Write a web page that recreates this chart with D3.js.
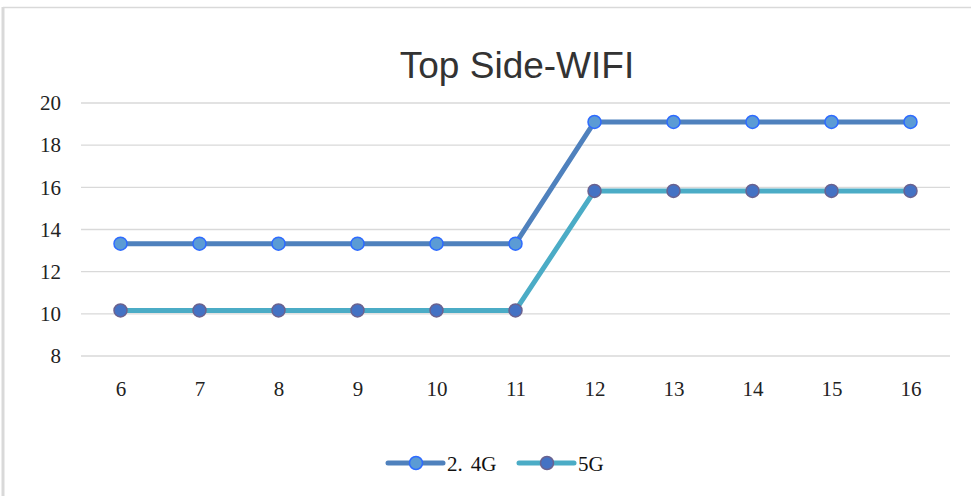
<!DOCTYPE html>
<html>
<head>
<meta charset="utf-8">
<script src="https://cdn.jsdelivr.net/npm/d3@7"></script>
<style>
  html, body { margin: 0; padding: 0; background: #fff; }
  svg { display: block; }
</style>
</head>
<body>
<svg id="chart" width="971" height="496"></svg>
<script>
// Channel numbers along the x axis
const channels = [6, 7, 8, 9, 10, 11, 12, 13, 14, 15, 16];
// Measured values per band
const values24G = [13.33, 13.33, 13.33, 13.33, 13.33, 13.33, 19.1, 19.1, 19.1, 19.1, 19.1];
const values5G = [10.16, 10.16, 10.16, 10.16, 10.16, 10.16, 15.83, 15.83, 15.83, 15.83, 15.83];
const yTicks = [8, 10, 12, 14, 16, 18, 20];
const seriesNames = ["2.4G", "5G"];

const series = [
  { name: seriesNames[0], values: values24G, line: "#4F81BD", fill: "#5B9BD5", stroke: "#2E6BFF" },
  { name: seriesNames[1], values: values5G, line: "#4BACC6", fill: "#4472C4", stroke: "#6A6290" }
];

const svg = d3.select("#chart");
const serif = "'Liberation Serif', 'Times New Roman', serif";

// frame edges
svg.append("line").attr("x1", 3).attr("x2", 971).attr("y1", 7.5).attr("y2", 7.5)
  .attr("stroke", "#D9D9D9").attr("stroke-width", 1.5);
svg.append("line").attr("x1", 3).attr("x2", 3).attr("y1", 7).attr("y2", 496)
  .attr("stroke", "#D9D9D9").attr("stroke-width", 3);

const plot = { left: 81, right: 950, top: 103, bottom: 356 };

const x = d3.scalePoint().domain(channels).range([plot.left, plot.right]).padding(0.5);
const y = d3.scaleLinear().domain([8, 20]).range([plot.bottom, plot.top]);

// title
svg.append("text")
  .attr("x", 517).attr("y", 78)
  .attr("text-anchor", "middle")
  .attr("font-family", "'Liberation Sans', Arial, sans-serif")
  .attr("font-size", 37)
  .attr("fill", "#333")
  .text("Top Side-WIFI");

// horizontal gridlines
svg.append("g").selectAll("line").data(yTicks).join("line")
  .attr("x1", plot.left).attr("x2", plot.right)
  .attr("y1", d => y(d)).attr("y2", d => y(d))
  .attr("stroke", "#D9D9D9").attr("stroke-width", 1.3);

// y axis labels
const yAxis = d3.axisLeft(y).tickValues(yTicks).tickSize(0).tickPadding(0);
const gy = svg.append("g").attr("transform", `translate(61,0)`).call(yAxis);
gy.select(".domain").remove();
gy.selectAll("text")
  .attr("font-family", serif)
  .attr("font-size", 21).attr("fill", "#222");

// x axis labels
const xAxis = d3.axisBottom(x).tickSize(0).tickPadding(0);
const gx = svg.append("g").attr("transform", `translate(0,381)`).call(xAxis);
gx.select(".domain").remove();
gx.selectAll("text")
  .attr("dy", "0.71em")
  .attr("font-family", serif)
  .attr("font-size", 21).attr("fill", "#222");

const lineGen = d3.line().x((d, i) => x(channels[i])).y(d => y(d));

// lines first, then markers on top
series.slice().reverse().forEach(s => {
  svg.append("path")
    .attr("d", lineGen(s.values))
    .attr("fill", "none")
    .attr("stroke", s.line)
    .attr("stroke-width", 5)
    .attr("stroke-linejoin", "round");
});
series.forEach(s => {
  svg.append("g").selectAll("circle").data(s.values).join("circle")
    .attr("cx", (d, i) => x(channels[i]))
    .attr("cy", d => y(d))
    .attr("r", 6.5)
    .attr("fill", s.fill)
    .attr("stroke", s.stroke)
    .attr("stroke-width", 1.5);
});

// legend
const legendItems = [
  { s: series[0], x0: 388 },
  { s: series[1], x0: 519 }
];
const ly = 463;
legendItems.forEach(({ s, x0 }) => {
  const g = svg.append("g");
  g.append("line").attr("x1", x0).attr("x2", x0 + 55).attr("y1", ly).attr("y2", ly)
    .attr("stroke", s.line).attr("stroke-width", 5).attr("stroke-linecap", "round");
  g.append("circle").attr("cx", x0 + 28).attr("cy", ly).attr("r", 6.5)
    .attr("fill", s.fill).attr("stroke", s.stroke).attr("stroke-width", 1.5);
  const t = g.append("text").attr("x", x0 + 59).attr("y", ly + 8)
    .attr("font-family", serif)
    .attr("font-size", 21).attr("fill", "#111");
  if (s.name === "2.4G") {
    t.append("tspan").text("2.");
    t.append("tspan").attr("dx", 8).text("4G");
  } else {
    t.text(s.name);
  }
});
</script>
</body>
</html>
